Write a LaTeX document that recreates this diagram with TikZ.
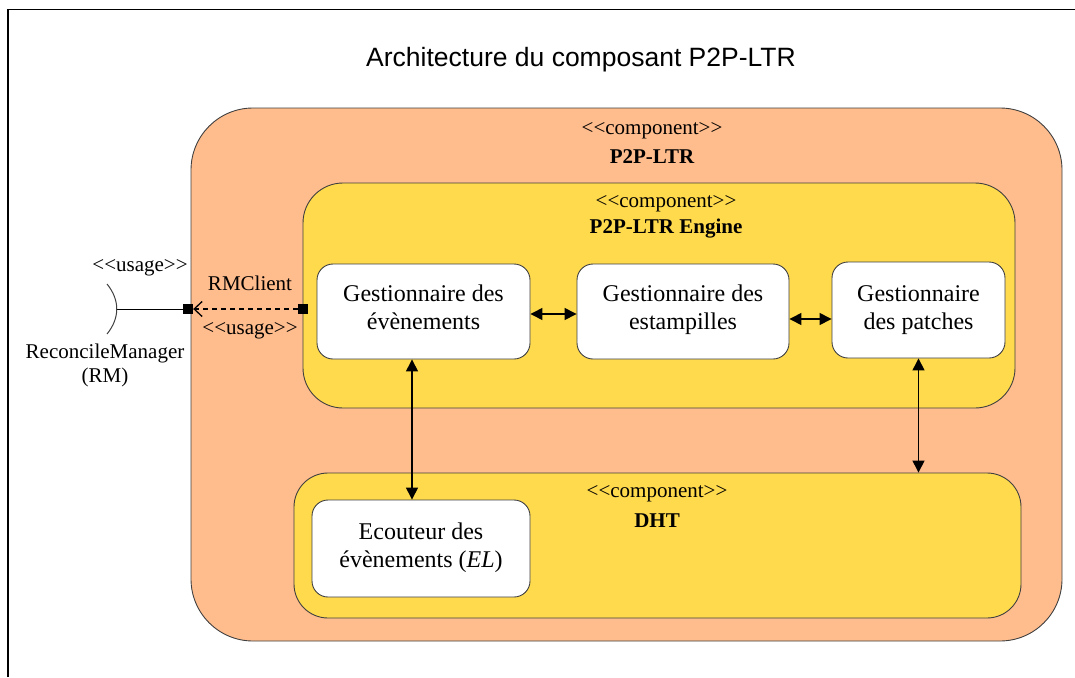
\documentclass[tikz,border=0pt]{standalone}
\usepackage{fontspec}
\setmainfont{Liberation Serif}
\newfontfamily\titlefont{Liberation Sans}
\usetikzlibrary{arrows.meta}
\newcommand{\stereo}[1]{<\kern0pt<#1>\kern0pt>}
\definecolor{compOrange}{RGB}{255,188,140}
\definecolor{compYellow}{RGB}{255,218,77}
\definecolor{edgeGray}{RGB}{64,64,64}
\tikzset{
  outerbox/.style={draw=edgeGray, line width=0.9pt, fill=compOrange, rounded corners=62pt, inner sep=0pt},
  innerbox/.style={draw=edgeGray, line width=0.9pt, fill=compYellow, rounded corners=40pt, inner sep=0pt},
  leafbox/.style={draw=edgeGray, line width=0.9pt, fill=white, rounded corners=16pt, inner sep=0pt, align=center, font=\fontsize{24}{28}\selectfont},
  stereotxt/.style={font=\fontsize{21}{24}\selectfont, inner sep=0pt},
  compname/.style={font=\fontsize{21}{24}\selectfont\bfseries, inner sep=0pt},
  lbl/.style={font=\fontsize{21}{24}\selectfont, inner sep=0pt, align=center},
  port/.style={fill=black, minimum size=10pt, inner sep=0pt},
  dbl/.style={line width=1.4pt, {Triangle[length=12pt,width=12pt]}-{Triangle[length=12pt,width=12pt]}},
}
\begin{document}
\begin{tikzpicture}[x=1pt,y=-1pt]
\useasboundingbox (0,0) rectangle (1075,677);
% frame
\draw[line width=1.4pt] (8,677) -- (8,9.5) -- (1075,9.5);
% title
\node[font=\titlefont\fontsize{26.5}{30}\selectfont, inner sep=0pt] (title) at (581,60) {Architecture du composant P2P-LTR};
% containers
\node[outerbox, minimum width=871pt, minimum height=533pt] (p2p) at (626.5,374.5) {};
\node[stereotxt] (p2pst) at (652,131) {\stereo{component}};
\node[compname] (p2pname) at (652,157) {P2P-LTR};
\node[innerbox, minimum width=712pt, minimum height=225pt] (engine) at (659,295.5) {};
\node[stereotxt] (engst) at (666,204) {\stereo{component}};
\node[compname] (engname) at (666,229) {P2P-LTR Engine};
\node[innerbox, rounded corners=34pt, minimum width=727pt, minimum height=145pt] (dht) at (657.5,545.5) {};
\node[stereotxt] (dhtst) at (657,494) {\stereo{component}};
\node[compname] (dhtname) at (657,521) {DHT};
% leaf boxes
\node[leafbox, minimum width=213pt, minimum height=95pt] (evt) at (423.5,311.5) {Gestionnaire des\\évènements\\[-19pt]};
\node[leafbox, minimum width=212pt, minimum height=95pt] (est) at (683,311.5) {Gestionnaire des\\estampilles\\[-19pt]};
\node[leafbox, minimum width=173pt, minimum height=96pt] (pat) at (918.5,310) {Gestionnaire\\des patches\\[-23pt]};
\node[leafbox, minimum width=218pt, minimum height=97pt] (el) at (421,548.5) {Ecouteur des\\évènements (\textit{EL})\\[-21pt]};
% connectors
\draw[dbl] (evt.east |- 0,314) -- (est.west |- 0,314);
\draw[dbl] (est.east |- 0,319) -- (pat.west |- 0,319);
\draw[dbl] (evt.south -| 412,0) -- (el.north -| 412,0);
\draw[dbl] (pat.south) -- (dht.north -| pat.south);
% ports and interface
\node[port] (pl) at (188,309) {};
\node[port] (pr) at (303,309) {};
\draw[line width=1.3pt, dashed, dash pattern=on 5pt off 4pt, -{Straight Barb[length=8pt,width=15pt]}] (pr) -- (pl);
\coordinate (sock) at (117,309);
\draw[line width=1pt] (sock) -- (pl);
\draw[line width=1pt, edgeGray] (107,284) .. controls (120,300) and (120,318) .. (107,334);
\node[lbl] (usage1) at (140,268) {\stereo{usage}};
\node[lbl] (rmclient) at (250,283) {RMClient};
\node[lbl] (usage2) at (250,331) {\stereo{usage}};
\node[lbl] (rm) at (105,365) {ReconcileManager\\(RM)};
\end{tikzpicture}
\end{document}
